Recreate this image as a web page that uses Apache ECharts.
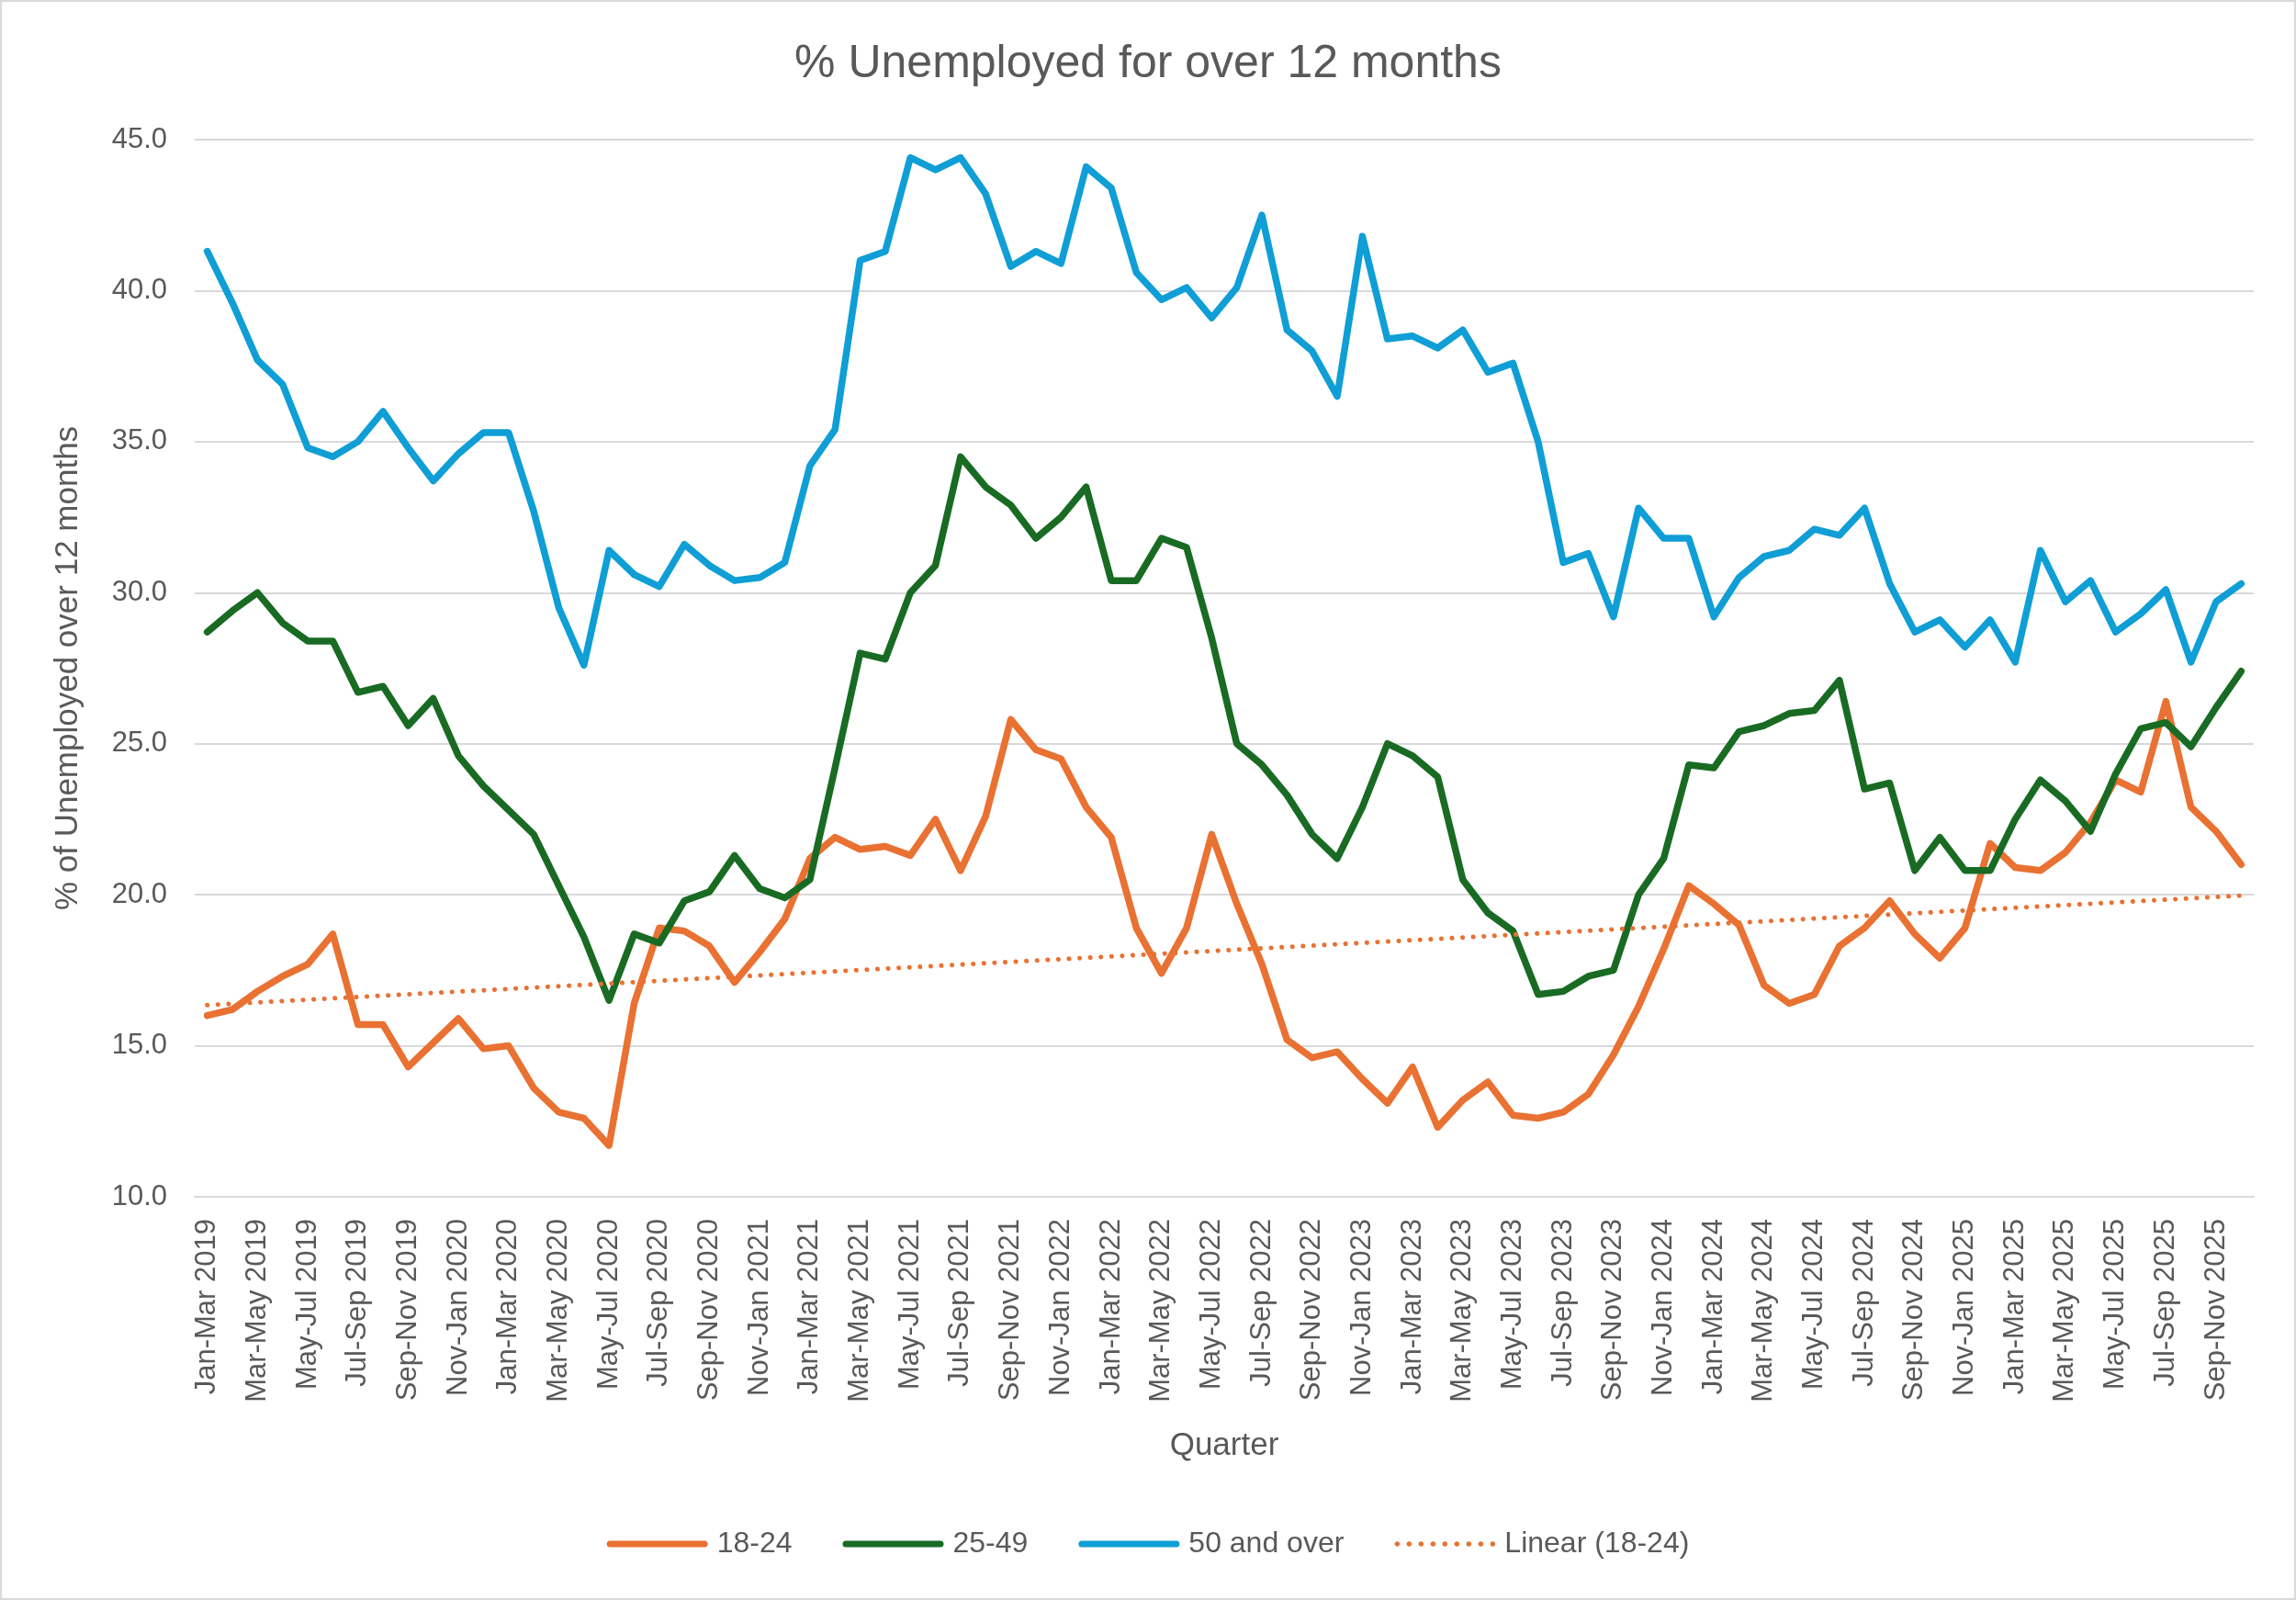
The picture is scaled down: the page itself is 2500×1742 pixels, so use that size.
<!DOCTYPE html>
<html>
<head>
<meta charset="utf-8">
<script src="https://cdn.jsdelivr.net/npm/echarts@6/dist/echarts.min.js"></script>
<style>
html,body{margin:0;padding:0;background:#fff;}
#chart{width:2500px;height:1742px;box-sizing:border-box;border:2px solid #D9D9D9;}
</style>
</head>
<body>
<div id="chart"></div>
<script>
const categories = [
"Jan-Mar 2019","Feb-Apr 2019","Mar-May 2019","Apr-Jun 2019","May-Jul 2019","Jun-Aug 2019","Jul-Sep 2019","Aug-Oct 2019","Sep-Nov 2019","Oct-Dec 2019","Nov-Jan 2020","Dec-Feb 2020",
"Jan-Mar 2020","Feb-Apr 2020","Mar-May 2020","Apr-Jun 2020","May-Jul 2020","Jun-Aug 2020","Jul-Sep 2020","Aug-Oct 2020","Sep-Nov 2020","Oct-Dec 2020","Nov-Jan 2021","Dec-Feb 2021",
"Jan-Mar 2021","Feb-Apr 2021","Mar-May 2021","Apr-Jun 2021","May-Jul 2021","Jun-Aug 2021","Jul-Sep 2021","Aug-Oct 2021","Sep-Nov 2021","Oct-Dec 2021","Nov-Jan 2022","Dec-Feb 2022",
"Jan-Mar 2022","Feb-Apr 2022","Mar-May 2022","Apr-Jun 2022","May-Jul 2022","Jun-Aug 2022","Jul-Sep 2022","Aug-Oct 2022","Sep-Nov 2022","Oct-Dec 2022","Nov-Jan 2023","Dec-Feb 2023",
"Jan-Mar 2023","Feb-Apr 2023","Mar-May 2023","Apr-Jun 2023","May-Jul 2023","Jun-Aug 2023","Jul-Sep 2023","Aug-Oct 2023","Sep-Nov 2023","Oct-Dec 2023","Nov-Jan 2024","Dec-Feb 2024",
"Jan-Mar 2024","Feb-Apr 2024","Mar-May 2024","Apr-Jun 2024","May-Jul 2024","Jun-Aug 2024","Jul-Sep 2024","Aug-Oct 2024","Sep-Nov 2024","Oct-Dec 2024","Nov-Jan 2025","Dec-Feb 2025",
"Jan-Mar 2025","Feb-Apr 2025","Mar-May 2025","Apr-Jun 2025","May-Jul 2025","Jun-Aug 2025","Jul-Sep 2025","Aug-Oct 2025","Sep-Nov 2025","Oct-Dec 2025"
];

const age18to24 = [
16.0,16.2,16.8,17.3,17.7,18.7,15.7,15.7,14.3,15.1,
15.9,14.9,15.0,13.6,12.8,12.6,11.7,16.4,18.9,18.8,
18.3,17.1,18.1,19.2,21.2,21.9,21.5,21.6,21.3,22.5,
20.8,22.6,25.8,24.8,24.5,22.9,21.9,18.9,17.4,18.9,
22.0,19.7,17.7,15.2,14.6,14.8,13.9,13.1,14.3,12.3,
13.2,13.8,12.7,12.6,12.8,13.4,14.7,16.3,18.2,20.3,
19.7,19.0,17.0,16.4,16.7,18.3,18.9,19.8,18.7,17.9,
18.9,21.7,20.9,20.8,21.4,22.4,23.8,23.4,26.4,22.9,
22.1,21.0
];

const age25to49 = [
28.7,29.4,30.0,29.0,28.4,28.4,26.7,26.9,25.6,26.5,
24.6,23.6,22.8,22.0,20.3,18.6,16.5,18.7,18.4,19.8,
20.1,21.3,20.2,19.9,20.5,24.2,28.0,27.8,30.0,30.9,
34.5,33.5,32.9,31.8,32.5,33.5,30.4,30.4,31.8,31.5,
28.5,25.0,24.3,23.3,22.0,21.2,22.9,25.0,24.6,23.9,
20.5,19.4,18.8,16.7,16.8,17.3,17.5,20.0,21.2,24.3,
24.2,25.4,25.6,26.0,26.1,27.1,23.5,23.7,20.8,21.9,
20.8,20.8,22.5,23.8,23.1,22.1,24.0,25.5,25.7,24.9,
26.2,27.4
];

const age50plus = [
41.3,39.6,37.7,36.9,34.8,34.5,35.0,36.0,34.8,33.7,
34.6,35.3,35.3,32.7,29.5,27.6,31.4,30.6,30.2,31.6,
30.9,30.4,30.5,31.0,34.2,35.4,41.0,41.3,44.4,44.0,
44.4,43.2,40.8,41.3,40.9,44.1,43.4,40.6,39.7,40.1,
39.1,40.1,42.5,38.7,38.0,36.5,41.8,38.4,38.5,38.1,
38.7,37.3,37.6,35.0,31.0,31.3,29.2,32.8,31.8,31.8,
29.2,30.5,31.2,31.4,32.1,31.9,32.8,30.3,28.7,29.1,
28.2,29.1,27.7,31.4,29.7,30.4,28.7,29.3,30.1,27.7,
29.7,30.3
];

const seriesNames = ["18-24", "25-49", "50 and over", "Linear (18-24)"];
const yTicks = { min: 10, max: 45, step: 5 };

// Least-squares trendline of the 18-24 series (as Excel's "Linear" trendline)
function linearFit(ys) {
  const n = ys.length;
  let sx = 0, sy = 0;
  for (let i = 0; i < n; i++) { sx += i; sy += ys[i]; }
  const mx = sx / n, my = sy / n;
  let num = 0, den = 0;
  for (let i = 0; i < n; i++) { num += (i - mx) * (ys[i] - my); den += (i - mx) * (i - mx); }
  const b = num / den, a = my - b * mx;
  return ys.map((_, i) => +(a + b * i).toFixed(3));
}
const trend18to24 = linearFit(age18to24);

// legend icons
const solidIcon = "path://M3.5,0 L106.5,0 A3.5,3.5 0 0 1 106.5,7 L3.5,7 A3.5,3.5 0 0 1 3.5,0 Z";
let dotPath = "path://";
for (let k = 0; k < 9; k++) {
  const cx = 3 + k * 13;
  dotPath += `M${cx - 2.7},3.5 A2.7,2.7 0 1 0 ${cx + 2.7},3.5 A2.7,2.7 0 1 0 ${cx - 2.7},3.5 Z `;
}
const dottedIcon = dotPath + "M0,0 L0.01,0 Z M0,7 L0.01,7 Z M110,0 L110.01,0 Z";

const FONT = "Liberation Sans";
const TXT = "#595959";
const chart = echarts.init(document.getElementById("chart"), null, { renderer: "canvas" });
chart.setOption({
  backgroundColor: "#ffffff",
  animation: false,
  title: {
    text: "% Unemployed for over 12 months",
    left: "center",
    top: 38,
    textStyle: { fontFamily: FONT, fontSize: 50, fontWeight: "normal", color: TXT }
  },
  legend: {
    data: [
      { name: seriesNames[0], icon: solidIcon },
      { name: seriesNames[1], icon: solidIcon },
      { name: seriesNames[2], icon: solidIcon },
      { name: seriesNames[3], icon: dottedIcon }
    ],
    bottom: 38,
    left: "center",
    itemWidth: 110,
    itemHeight: 7,
    itemGap: 55,
    textStyle: { fontFamily: FONT, fontSize: 32, color: TXT, padding: [0, 0, 0, 5] }
  },
  grid: { left: 210, right: 44, top: 150, bottom: 437, containLabel: false },
  xAxis: {
    type: "category",
    data: categories,
    boundaryGap: true,
    name: "Quarter",
    nameLocation: "middle",
    nameGap: 254,
    nameTextStyle: { fontFamily: FONT, fontSize: 35, color: TXT },
    axisLine: { show: true, lineStyle: { color: "#D9D9D9", width: 2 } },
    axisTick: { show: false },
    axisLabel: {
      interval: 1,
      rotate: 90,
      margin: 24,
      fontFamily: FONT,
      fontSize: 31,
      color: TXT
    },
    splitLine: { show: false }
  },
  yAxis: {
    type: "value",
    min: yTicks.min,
    max: yTicks.max,
    interval: yTicks.step,
    name: "% of Unemployed over 12 months",
    nameLocation: "middle",
    nameGap: 120,
    nameRotate: 90,
    nameTextStyle: { fontFamily: FONT, fontSize: 35, color: TXT },
    axisLine: { show: false },
    axisTick: { show: false },
    axisLabel: {
      margin: 30,
      fontFamily: FONT,
      fontSize: 31,
      color: TXT,
      formatter: v => v.toFixed(1)
    },
    splitLine: { show: true, lineStyle: { color: "#D9D9D9", width: 2 } }
  },
  series: [
    {
      name: seriesNames[0], type: "line", data: age18to24, symbol: "none",
      color: "#E97132",
      lineStyle: { color: "#E97132", width: 7.5, join: "round", cap: "round" }
    },
    {
      name: seriesNames[1], type: "line", data: age25to49, symbol: "none",
      color: "#196B24",
      lineStyle: { color: "#196B24", width: 7.5, join: "round", cap: "round" }
    },
    {
      name: seriesNames[2], type: "line", data: age50plus, symbol: "none",
      color: "#0F9ED5",
      lineStyle: { color: "#0F9ED5", width: 7.5, join: "round", cap: "round" }
    },
    {
      name: seriesNames[3], type: "line", data: trend18to24, symbol: "none",
      color: "#E97132",
      lineStyle: { color: "#E97132", width: 5, type: [0.1, 11.5], cap: "round" }
    }
  ]
});
</script>
</body>
</html>
